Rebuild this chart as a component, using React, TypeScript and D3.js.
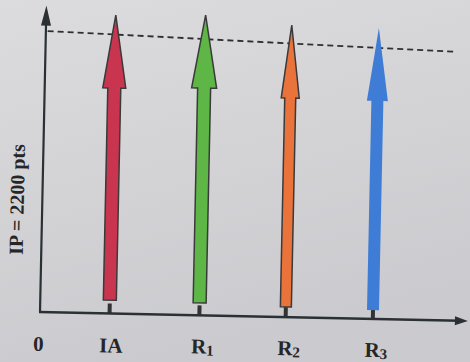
import React from "react";
import * as d3 from "d3";

// ---- data ----
const CATEGORIES = ["IA", "R1", "R2", "R3"];
const LABEL_MAIN = ["IA", "R", "R", "R"];
const LABEL_SUB = ["", "1", "2", "3"];
const POSITIONS = [0.79, 1.81, 2.79, 3.78];
const TIP_VALUES = [2337, 2352, 2288, 2279];
const BASE_VALUES = [105, 97, 80, 70];
const REF_LINE_X = [0.02, 4.67];
const REF_LINE_VALUES = [2200, 2105];
const ORIGIN_LABEL = "0";
const Y_LABEL = "IP = 2200 pts";

// ---- styles ----
const COLORS = ["#c9354f", "#5db646", "#e9733b", "#3e7cd5"];
const OUTLINE = ["#3a3a3a", "#3a3a3a", "#3a3a3a", "none"];
const STEM_W = [13, 13, 11, 12];
const HEAD_W = [23, 25, 18, 21];
const HEAD_LEN = 73;

const W = 470;
const H = 362;
const OX = 40;
const OY = 312;
const TILT = 1.2;

export default function App() {
  const x = d3.scaleLinear().domain([0, 4.86]).range([OX, OX + 428]);
  const y = d3.scaleLinear().domain([0, 2400]).range([OY, OY - 306.5]);
  const axisColor = "#2b3035";
  const font = "'Liberation Serif', 'Times New Roman', serif";

  const arrowPath = (i: number) => {
    const cx = x(POSITIONS[i]);
    const top = y(TIP_VALUES[i]);
    const bot = y(BASE_VALUES[i]);
    const hh = HEAD_W[i] / 2;
    const sh = STEM_W[i] / 2;
    const hb = top + HEAD_LEN;
    const p = d3.path();
    p.moveTo(cx, top);
    p.lineTo(cx + hh, hb);
    p.lineTo(cx + sh, hb);
    p.lineTo(cx + sh, bot);
    p.lineTo(cx - sh, bot);
    p.lineTo(cx - sh, hb);
    p.lineTo(cx - hh, hb);
    p.closePath();
    return p.toString();
  };

  const refLine = d3
    .line<number>()
    .x((_, i) => x(REF_LINE_X[i]))
    .y((v) => y(v))(REF_LINE_VALUES);

  const yTop = y(2400);
  const xEnd = x(4.86);

  return (
    <svg
      width={W}
      height={H}
      style={{ position: "fixed", left: 0, top: 0 }}
      xmlns="http://www.w3.org/2000/svg"
    >
      <defs>
        <linearGradient id="bg" x1="0" y1="0" x2="0.3" y2="1">
          <stop offset="0" stopColor="#dcdcde" />
          <stop offset="1" stopColor="#cbcbcf" />
        </linearGradient>
      </defs>
      <rect x={0} y={0} width={W} height={H} fill="url(#bg)" />
      <g transform={`rotate(${TILT}, ${OX}, ${OY})`}>
        {/* dashed reference line */}
        <path
          d={refLine || ""}
          fill="none"
          stroke="#2e2e2e"
          strokeWidth={1.8}
          strokeDasharray="6 4"
        />
        {/* ticks */}
        {CATEGORIES.map((c, i) => (
          <rect
            key={"t" + c}
            x={x(POSITIONS[i]) - 2}
            y={OY - 10}
            width={4}
            height={10}
            fill="#333"
          />
        ))}
        {/* axes */}
        <line x1={OX} y1={OY} x2={OX} y2={yTop + 12} stroke={axisColor} strokeWidth={2.2} />
        <path
          d={`M${OX},${yTop} L${OX + 5},${yTop + 20} L${OX - 5},${yTop + 20} Z`}
          fill={axisColor}
        />
        <line x1={OX - 1} y1={OY} x2={xEnd - 8} y2={OY} stroke={axisColor} strokeWidth={2.6} />
        <path
          d={`M${xEnd},${OY} L${xEnd - 13},${OY - 4.5} L${xEnd - 13},${OY + 4.5} Z`}
          fill={axisColor}
        />
        {/* arrows */}
        {CATEGORIES.map((c, i) => (
          <path
            key={"a" + c}
            d={arrowPath(i)}
            fill={COLORS[i]}
            stroke={OUTLINE[i]}
            strokeWidth={1.5}
            strokeLinejoin="miter"
          />
        ))}
        {/* labels */}
        <text
          x={x(0) - 1}
          y={OY + 39}
          textAnchor="middle"
          fontFamily={font}
          fontWeight="bold"
          fontSize={21}
          fill="#262626"
        >
          {ORIGIN_LABEL}
        </text>
        {CATEGORIES.map((c, i) =>
          LABEL_SUB[i] ? (
            <text
              key={"l" + c}
              x={x(POSITIONS[i]) - 7.6}
              y={OY + 38}
              fontFamily={font}
              fontWeight="bold"
              fontSize={21}
              fill="#262626"
            >
              {LABEL_MAIN[i]}
              <tspan fontSize={15} dy={2}>
                {LABEL_SUB[i]}
              </tspan>
            </text>
          ) : (
            <text
              key={"l" + c}
              x={x(POSITIONS[i]) + 2}
              y={OY + 39}
              textAnchor="middle"
              fontFamily={font}
              fontWeight="bold"
              fontSize={21}
              fill="#262626"
            >
              {LABEL_MAIN[i]}
            </text>
          )
        )}
        <text
          transform={`translate(${OX - 18.5}, ${OY - 112}) rotate(-90)`}
          textAnchor="middle"
          fontFamily={font}
          fontWeight="bold"
          fontSize={20}
          fill="#262626"
        >
          {Y_LABEL}
        </text>
      </g>
    </svg>
  );
}
